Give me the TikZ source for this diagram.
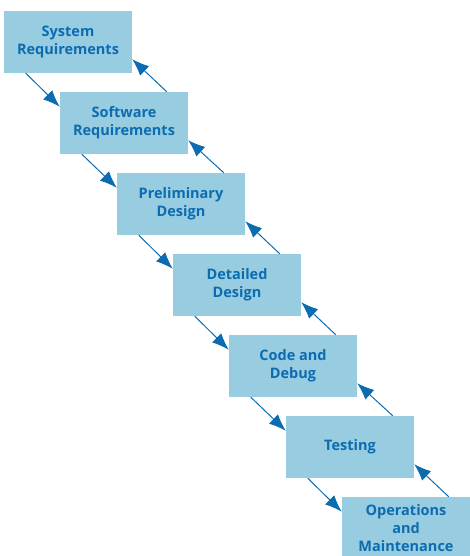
\documentclass[tikz,border=0pt]{standalone}
\usepackage{fontspec}
\setmainfont{Open Sans}
\usetikzlibrary{arrows.meta}
\definecolor{boxfill}{RGB}{152,204,224}
\definecolor{darkblue}{RGB}{12,108,176}
\tikzset{phase/.style={rectangle, fill=boxfill, minimum width=128pt, minimum height=62pt,
    inner sep=0pt, align=center, text=darkblue, font=\bfseries\fontsize{14.5}{18}\selectfont},
  flow/.style={draw=darkblue, line width=1pt, -{Latex[length=17pt,width=13pt]}}}

\begin{document}
\begin{tikzpicture}[x=1pt,y=-1pt]
            \useasboundingbox (0,0) rectangle (469,556);
            % the phases, one step down and right each time
            \node[phase] (sysreq) at (68,42) {System\\Requirements};
            \node[phase] (swreq) at (124,123) {Software\\Requirements};
            \node[phase] (prelim) at (181,204) {Preliminary\\Design};
            \node[phase] (detail) at (237,285) {Detailed\\Design};
            \node[phase] (code) at (293,366) {Code and\\Debug};
            \node[phase] (test) at (350,447) {Testing};
            \node[phase] (ops) at (406,528) {Operations\\and\\Maintenance};
            \foreach \a/\b in {sysreq/swreq,swreq/prelim,prelim/detail,detail/code,code/test,test/ops} % down and back up
            {
            \draw[flow] ([xshift=22pt]\a.south west) -- ([yshift=-15pt]\b.north west);
            \draw[flow] ([xshift=107pt]\b.north west) -- ([yshift=14pt]\a.south east);
            }
            \end{tikzpicture}
\end{document}
